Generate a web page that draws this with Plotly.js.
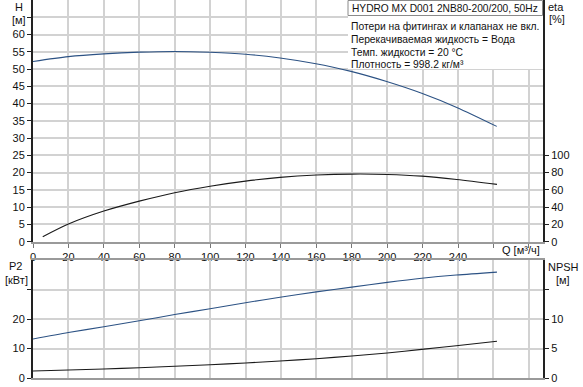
<!DOCTYPE html>
<html>
<head>
<meta charset="utf-8">
<script src="https://cdn.plot.ly/plotly-3.0.1.min.js"></script>
<style>html,body{margin:0;padding:0;background:#fff;}#chart{width:583px;height:387px;}</style>
</head>
<body>
<div id="chart"></div>
<script>
// Flow Q [m3/h]
const qH = [0, 20, 40, 60, 80, 100, 120, 139.5, 159, 179, 199.7, 219.5, 239.3, 261.9];
const headH = [52.2, 53.6, 54.4, 54.9, 55.1, 54.85, 54.3, 53.2, 51.6, 49.4, 46.4, 43.0, 38.9, 33.4];

const qEta = [5.5, 20, 40, 60, 80, 100, 120, 139.5, 160, 180, 200, 219.5, 239.3, 262];
const eta = [5.8, 20.5, 35.5, 47.0, 56.8, 64.3, 70.2, 74.5, 77.2, 78.3, 77.9, 76.0, 72.1, 66.4];

const qP = [0, 20, 40, 60, 80, 100, 120, 139.5, 160, 180, 200, 219.5, 239, 262];
const p2 = [13.2, 15.4, 17.4, 19.4, 21.5, 23.5, 25.5, 27.4, 29.2, 30.8, 32.4, 33.8, 34.9, 35.9];
const npsh = [1.19, 1.36, 1.53, 1.75, 1.98, 2.25, 2.54, 2.88, 3.27, 3.73, 4.24, 4.86, 5.47, 6.22];

const qTicks = [0, 20, 40, 60, 80, 100, 120, 140, 160, 180, 200, 220, 240, 260, 280];
const qTickText = ['0','20','40','60','80','100','120','140','160','180','200','220','240','',''];
const hTicks = [0,5,10,15,20,25,30,35,40,45,50,55,60,65];
const hTickText = ['0','5','10','15','20','25','30','35','40','45','50','55','60',''];
const etaTicks = [0,20,40,60,80,100];
const p2Ticks = [0,10,20,30];
const p2TickText = ['0','10','20',''];
const npshTicks = [0,5,10,15];
const npshTickText = ['0','5','10',''];

const chartTitle = 'HYDRO MX D001 2NB80-200/200, 50Hz';
const infoLines = ['Потери на фитингах и клапанах не вкл.', 'Перекачиваемая жидкость = Вода', 'Темп. жидкости = 20 °C', 'Плотность = 998.2 кг/м³'];

const W = 583, H = 387, ML = 33, MR = 40, MT = 0, MB = 9;
const PW = W - ML - MR, PH = H - MT - MB;
const px = x => (x - ML) / PW;
const py = y => (H - MB - y) / PH;

const FONT = 'Liberation Sans, Arial, sans-serif';
const blue = '#2c5284', dark = '#1a1a1a';

const traces = [
  {x: qH, y: headH, type: 'scatter', mode: 'lines', line: {color: blue, width: 1.1, shape: 'spline', smoothing: 0.8}, xaxis: 'x', yaxis: 'y', hoverinfo: 'skip'},
  {x: qEta, y: eta, type: 'scatter', mode: 'lines', line: {color: dark, width: 1.1, shape: 'spline', smoothing: 0.8}, xaxis: 'x', yaxis: 'y2', hoverinfo: 'skip'},
  {x: qP, y: p2, type: 'scatter', mode: 'lines', line: {color: blue, width: 1.1, shape: 'spline', smoothing: 0.8}, xaxis: 'x2', yaxis: 'y3', hoverinfo: 'skip'},
  {x: qP, y: npsh, type: 'scatter', mode: 'lines', line: {color: dark, width: 1.1, shape: 'spline', smoothing: 0.8}, xaxis: 'x2', yaxis: 'y4', hoverinfo: 'skip'}
];

const grid = '#d2d2d2';
const tickFont = {family: FONT, size: 11, color: '#111'};
const topDom = [py(241.7), 1];
const botDom = [0, py(260)];

const layout = {
  width: W, height: H,
  margin: {l: ML, r: MR, t: MT, b: MB, pad: 0},
  paper_bgcolor: '#fff', plot_bgcolor: '#fff',
  showlegend: false,
  font: {family: FONT, size: 11, color: '#111'},
  xaxis: {
    domain: [0, 1], anchor: 'y', range: [0, 288],
    tickmode: 'array', tickvals: qTicks, ticktext: qTickText,
    showgrid: true, gridcolor: grid, gridwidth: 2, zeroline: false,
    showline: true, linecolor: '#9a9a9a', linewidth: 2,
    ticks: 'outside', ticklen: 4, tickcolor: '#777', tickfont: tickFont
  },
  yaxis: {
    domain: topDom, anchor: 'x', range: [0, 70],
    tickmode: 'array', tickvals: hTicks, ticktext: hTickText,
    showgrid: true, gridcolor: grid, gridwidth: 2, zeroline: false,
    showline: true, linecolor: '#222', linewidth: 2,
    ticks: 'outside', ticklen: 4, tickcolor: '#222', tickfont: tickFont
  },
  yaxis2: {
    overlaying: 'y', side: 'right', anchor: 'x', range: [0, 280],
    tickmode: 'array', tickvals: etaTicks,
    showgrid: false, zeroline: false,
    showline: true, linecolor: '#222', linewidth: 2,
    ticks: 'outside', ticklen: 4, tickcolor: '#222', tickfont: tickFont
  },
  xaxis2: {
    domain: [0, 1], anchor: 'y3', range: [0, 288],
    tickmode: 'array', tickvals: qTicks, showticklabels: false,
    showgrid: true, gridcolor: grid, gridwidth: 2, zeroline: false,
    showline: true, mirror: true, linecolor: '#9a9a9a', linewidth: 2, ticks: ''
  },
  yaxis3: {
    domain: botDom, anchor: 'x2', range: [0, 40],
    tickmode: 'array', tickvals: p2Ticks, ticktext: p2TickText,
    showgrid: true, gridcolor: grid, gridwidth: 2, zeroline: false,
    showline: true, linecolor: '#222', linewidth: 2,
    ticks: 'outside', ticklen: 4, tickcolor: '#222', tickfont: tickFont
  },
  yaxis4: {
    overlaying: 'y3', side: 'right', anchor: 'x2', range: [0, 20],
    tickmode: 'array', tickvals: npshTicks, ticktext: npshTickText,
    showgrid: false, zeroline: false,
    showline: true, linecolor: '#222', linewidth: 2,
    ticks: 'outside', ticklen: 4, tickcolor: '#222', tickfont: tickFont
  },
  shapes: [
    {type: 'rect', xref: 'paper', yref: 'paper', x0: px(348), x1: 1, y0: py(69), y1: 1, fillcolor: '#fff', line: {width: 0}, layer: 'above'},
    {type: 'rect', xref: 'paper', yref: 'paper', x0: px(348), x1: px(542.5), y0: py(15.5), y1: py(0.5), fillcolor: '#fff', line: {color: '#8a8a8a', width: 1}, layer: 'above'}
  ],
  annotations: []
};

function ann(text, x, y, anchor, size) {
  layout.annotations.push({text: text, xref: 'paper', yref: 'paper', x: px(x), y: py(y), xanchor: anchor || 'center', yanchor: 'middle', showarrow: false, font: {family: FONT, size: size || 11, color: '#111'}});
}
ann(chartTitle, 350, 8, 'left', 10.2);
infoLines.forEach((t, i) => ann(t, 349, [27, 39.5, 52, 64.5][i], 'left', 10.3));
ann('H', 19, 7);
ann('[м]', 19, 20);
ann('eta', 556, 7);
ann('[%]', 557, 19);
ann('Q [м³/ч]', 521, 250);
ann('P2', 15, 266);
ann('[кВт]', 16, 280);
ann('NPSH', 563, 267);
ann('[м]', 563, 280);

Plotly.newPlot('chart', traces, layout, {staticPlot: true, displayModeBar: false});
</script>
</body>
</html>
